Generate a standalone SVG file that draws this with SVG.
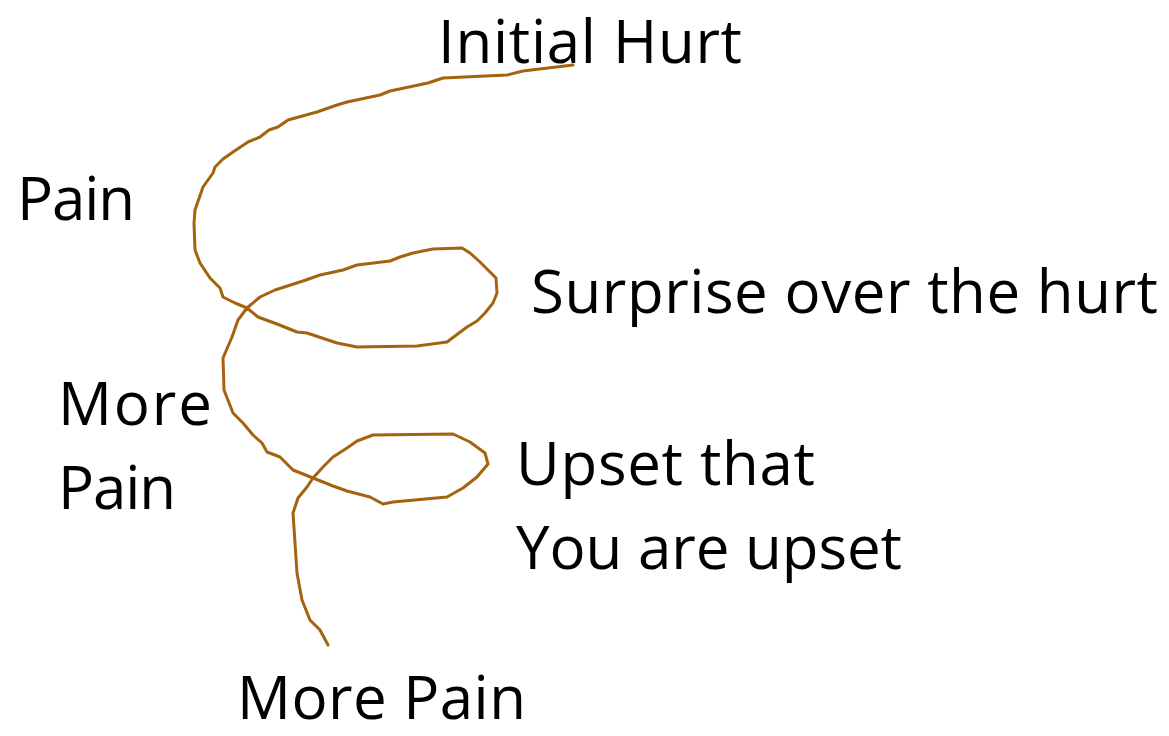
<svg xmlns="http://www.w3.org/2000/svg" width="1169" height="736" viewBox="0 0 1169 736">
<style>
.lbl{font-family:"Open Sans","Liberation Sans",sans-serif;font-size:60px;fill:#000}
.ink{fill:none;stroke:#A5620F;stroke-width:3;stroke-linejoin:round;stroke-linecap:round}
</style>
<rect width="1169" height="736" fill="#fff"/>
<g id="spiral">
<path class="ink" d="M573,65 L523,71 L507,75 L443,78 L428,83 L390,91 L380,95 L347,102 L337,105 L317,112 L288,120 L278,127 L269,130 L260,137 L248,142 L233,152 L223,159 L215,167 L213,173 L203,187 L195,210 L194,223 L195,250 L200,263 L210,278 L220,288 L223,297 L235,303 L247,308 L258,317 L277,324 L297,332 L307,333 L337,343 L357,347 L417,346 L447,342 L467,327 L477,321 L485,313 L493,303 L497,293 L496,278 L488,270 L480,262 L470,253 L462,248 L433,249 L413,253 L400,257 L390,261 L357,265 L343,270 L320,275 L303,281 L275,290 L260,297 L247,308 L238,320 L232,337 L223,358 L224,390 L233,413 L243,423 L253,435 L262,443 L267,452 L280,457 L293,470 L313,478 L333,486 L347,491 L370,497 L383,504 L393,502 L447,497 L463,488 L477,477 L488,464 L485,453 L470,442 L453,434 L373,435 L357,441 L347,448 L333,457 L323,467 L313,478 L307,487 L298,498 L293,513 L297,573 L302,600 L310,620 L320,630 L328,645"/>
</g>
<g id="label-initial"><text class="lbl" x="438" y="63" textLength="304">Initial Hurt</text></g>
<g id="label-pain"><text class="lbl" x="17" y="220" textLength="118">Pain</text></g>
<g id="label-surprise"><text class="lbl" x="531" y="313" textLength="627">Surprise over the hurt</text></g>
<g id="label-more-pain-1"><text class="lbl" x="58" y="425" textLength="154">More</text><text class="lbl" x="58" y="509" textLength="118">Pain</text></g>
<g id="label-upset"><text class="lbl" x="516" y="485" textLength="299">Upset that</text><text class="lbl" x="516" y="569" textLength="386">You are upset</text></g>
<g id="label-more-pain-2"><text class="lbl" x="237" y="719" textLength="289">More Pain</text></g>
</svg>
